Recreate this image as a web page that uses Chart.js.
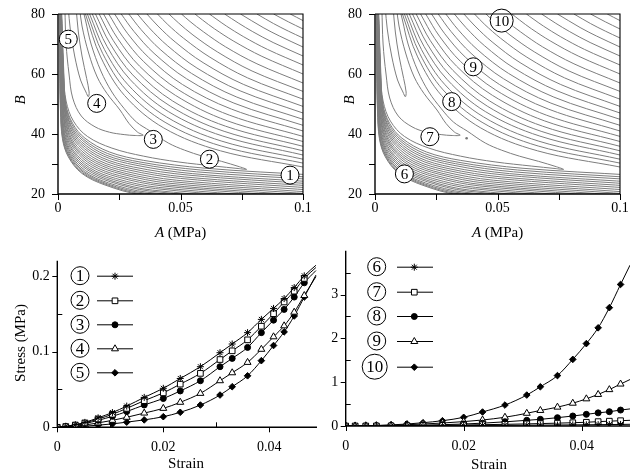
<!DOCTYPE html>
<html>
<head>
<meta charset="utf-8">
<script src="https://cdn.jsdelivr.net/npm/chart.js@4"></script>
<style>
  html, body { margin: 0; padding: 0; background: #fff; }
  #wrap { position: relative; width: 635px; height: 476px; }
  canvas { position: absolute; left: 0; top: 0; }
</style>
</head>
<body>
<div id="wrap">
  <canvas id="cTL" width="635" height="476"></canvas>
  <canvas id="cTR" width="635" height="476"></canvas>
  <canvas id="cBL" width="635" height="476"></canvas>
  <canvas id="cBR" width="635" height="476"></canvas>
</div>
<script>
// ---------- tick values ----------
const aTicks = [0, 0.05, 0.1];
const aTickText = ['0', '0.05', '0.1'];
const aMinor = [0.025, 0.075];
const bTicks = [20, 40, 60, 80];
const bTickText = ['20', '40', '60', '80'];
const bMinor = [30, 50, 70];
const strainTicks = [0, 0.02, 0.04];
const strainTickText = ['0', '0.02', '0.04'];
const strainMinor = [0.01, 0.03];
const stressTicksL = [0, 0.1, 0.2];
const stressTickTextL = ['0', '0.1', '0.2'];
const stressMinorL = [0.05, 0.15];
const stressTicksR = [0, 1, 2, 3];
const stressTickTextR = ['0', '1', '2', '3'];
const stressMinorR = [0.5, 1.5, 2.5, 3.5];

// ---------- contour lines (A, B pairs), same field in both top panels ----------
const upperLines = [
  [0.0112,80, 0.0174,65.7, 0.0272,52.8, 0.0432,42.0, 0.0663,34.4, 0.1,29.0],
  [0.0120,80, 0.0182,66.9, 0.0278,54.7, 0.0437,43.9, 0.0666,36.0, 0.1,30.3],
  [0.0129,80, 0.0190,68.1, 0.0286,56.4, 0.0443,45.7, 0.0669,37.6, 0.1,31.6],
  [0.0140,80, 0.0200,69.2, 0.0295,58.1, 0.0450,47.5, 0.0673,39.3, 0.1,33.0],
  [0.0153,80, 0.0212,70.2, 0.0305,59.7, 0.0458,49.3, 0.0678,40.9, 0.1,34.4],
  [0.0168,80, 0.0226,71.1, 0.0318,61.2, 0.0468,51.0, 0.0684,42.6, 0.1,35.9],
  [0.0186,80, 0.0243,71.9, 0.0333,62.6, 0.0479,52.9, 0.0691,44.4, 0.1,37.5],
  [0.0207,80, 0.0263,72.6, 0.0350,64.1, 0.0492,54.7, 0.0699,46.3, 0.1,39.2],
  [0.0231,80, 0.0285,73.4, 0.0369,65.6, 0.0508,56.5, 0.0708,48.3, 0.1,41.0],
  [0.0258,80, 0.0310,74.2, 0.0392,66.9, 0.0525,58.4, 0.0718,50.3, 0.1,42.9],
  [0.0289,80, 0.0339,74.8, 0.0417,68.2, 0.0545,60.2, 0.0730,52.3, 0.1,44.9],
  [0.0324,80, 0.0371,75.5, 0.0446,69.5, 0.0567,62.0, 0.0743,54.4, 0.1,47.0],
  [0.0363,80, 0.0408,76.0, 0.0478,70.7, 0.0592,63.8, 0.0758,56.5, 0.1,49.2],
  [0.0406,80, 0.0448,76.5, 0.0513,71.9, 0.0620,65.6, 0.0774,58.7, 0.1,51.6],
  [0.0453,80, 0.0491,77.1, 0.0551,73.0, 0.0650,67.4, 0.0792,61.0, 0.1,54.2],
  [0.0504,80, 0.0539,77.5, 0.0593,74.1, 0.0683,69.1, 0.0812,63.4, 0.1,57.0],
  [0.0559,80, 0.0590,78.0, 0.0638,75.1, 0.0718,70.9, 0.0832,65.9, 0.1,60.0],
  [0.0618,80, 0.0645,78.4, 0.0687,76.0, 0.0756,72.5, 0.0855,68.2, 0.1,63.0],
  [0.0680,80, 0.0738,76.9, 0.0795,74.1, 0.0878,70.5, 0.1,66.0],
  [0.0745,80, 0.0837,75.5, 0.0903,72.7, 0.1,69.0],
  [0.0812,80, 0.0880,76.8, 0.0940,74.3, 0.1,72.0],
  [0.0880,80, 0.0940,77.4, 0.1,75.0],
  [0.0948,80, 0.1,77.8]
];
const valleyLines = [
  [0.0042,82, 0.0050,75, 0.0068,66, 0.0092,58, 0.0114,54, 0.0124,52.4, 0.0127,54, 0.0117,58.5, 0.0098,66, 0.0083,74, 0.0074,82],
  [0.0028,82, 0.0033,70, 0.0045,60, 0.0060,52, 0.0095,46, 0.0151,42.4, 0.0210,40.6, 0.0270,39.8, 0.0315,39.5, 0.0348,39.6,
   0.0325,40.6, 0.0290,43.5, 0.0253,48, 0.0200,53.5, 0.0160,59, 0.0125,67, 0.0098,76, 0.0088,82],
  [0.0012,82, 0.0016,70, 0.0022,60, 0.0033,51, 0.0063,44.3, 0.0120,39.2, 0.0220,35.3, 0.0350,32.6, 0.0490,30.7, 0.0640,29.3,
   0.0735,28.5, 0.0770,28.2, 0.0740,29.1, 0.0667,30.9, 0.0590,32.6, 0.0517,34.6, 0.0450,37.0, 0.0376,41.0, 0.0320,44.0,
   0.0270,48.5, 0.0220,54.0, 0.0175,61.0, 0.0135,70.0, 0.0112,78.0, 0.0100,82]
];
const lowerLines = [
  [0.0005,82, 0.0007,60.0, 0.0010,48.0, 0.0018,38.5, 0.0042,32.4, 0.0097,26.9, 0.0192,23.0, 0.0340,19.8, 0.105,15.0],
  [0.0006,82, 0.0008,60.0, 0.0011,48.0, 0.0019,38.6, 0.0044,32.5, 0.0099,27.1, 0.0196,23.2, 0.0346,20.0, 0.105,15.2],
  [0.0006,82, 0.0009,60.1, 0.0012,48.1, 0.0020,38.8, 0.0046,32.7, 0.0103,27.3, 0.0201,23.4, 0.0354,20.3, 0.105,15.6],
  [0.0007,82, 0.0010,60.2, 0.0013,48.2, 0.0022,39.0, 0.0048,33.0, 0.0107,27.5, 0.0206,23.7, 0.0364,20.6, 0.105,16.0],
  [0.0008,82, 0.0011,60.3, 0.0015,48.3, 0.0024,39.2, 0.0051,33.2, 0.0112,27.8, 0.0213,24.1, 0.0374,21.0, 0.105,16.5],
  [0.0008,82, 0.0012,60.4, 0.0016,48.4, 0.0025,39.4, 0.0054,33.5, 0.0117,28.2, 0.0220,24.4, 0.0386,21.3, 0.105,17.0],
  [0.0009,82, 0.0013,60.4, 0.0017,48.4, 0.0027,39.6, 0.0057,33.8, 0.0122,28.5, 0.0227,24.8, 0.0398,21.8, 0.105,17.5],
  [0.0009,82, 0.0014,60.5, 0.0018,48.5, 0.0029,39.9, 0.0061,34.1, 0.0128,28.8, 0.0235,25.2, 0.0411,22.2, 0.105,18.1],
  [0.0010,82, 0.0015,60.7, 0.0020,48.7, 0.0032,40.1, 0.0064,34.4, 0.0134,29.2, 0.0243,25.7, 0.0425,22.7, 0.105,18.7],
  [0.0010,82, 0.0016,60.8, 0.0021,48.8, 0.0034,40.4, 0.0068,34.8, 0.0140,29.6, 0.0252,26.1, 0.0439,23.1, 0.105,19.3],
  [0.0011,82, 0.0017,60.9, 0.0022,48.9, 0.0036,40.7, 0.0072,35.1, 0.0146,30.0, 0.0261,26.6, 0.0453,23.6, 0.105,19.9],
  [0.0011,82, 0.0018,61.0, 0.0023,49.0, 0.0039,41.0, 0.0075,35.4, 0.0153,30.4, 0.0270,27.0, 0.0468,24.1, 0.105,20.5],
  [0.0012,82, 0.0019,61.1, 0.0025,49.1, 0.0041,41.3, 0.0079,35.8, 0.0159,30.8, 0.0279,27.5, 0.0483,24.6, 0.105,21.2],
  [0.0012,82, 0.0020,61.2, 0.0026,49.2, 0.0044,41.6, 0.0084,36.2, 0.0166,31.2, 0.0289,28.0, 0.0499,25.2, 0.105,21.9],
  [0.0012,82, 0.0020,61.3, 0.0027,49.3, 0.0046,41.9, 0.0088,36.6, 0.0173,31.7, 0.0298,28.5, 0.0515,25.7, 0.105,22.6],
  [0.0013,82, 0.0021,61.5, 0.0028,49.5, 0.0049,42.2, 0.0092,37.0, 0.0180,32.1, 0.0308,29.0, 0.0531,26.3, 0.105,23.3],
  [0.0013,82, 0.0021,61.6, 0.0029,49.6, 0.0052,42.5, 0.0096,37.4, 0.0187,32.6, 0.0318,29.6, 0.0548,26.8, 0.105,24.0],
  [0.0013,82, 0.0022,61.7, 0.0030,49.7, 0.0054,42.8, 0.0101,37.8, 0.0195,33.0, 0.0329,30.1, 0.0565,27.4, 0.105,24.8],
  [0.0014,82, 0.0022,61.9, 0.0031,49.9, 0.0057,43.2, 0.0105,38.2, 0.0202,33.5, 0.0339,30.6, 0.0582,28.0, 0.105,25.5],
  [0.0014,82, 0.0023,62.0, 0.0032,50.0, 0.0060,43.5, 0.0110,38.6, 0.0210,34.0, 0.0350,31.2, 0.0600,28.6, 0.105,26.3]
];
const bestFit = [0.0374, 38.6];

// circled fit labels on the contour maps
const fitTextL = ['1', '2', '3', '4', '5'];
const fitAL = [0.0947, 0.0618, 0.0389, 0.0158, 0.0042];
const fitBL = [26.3, 31.6, 38.2, 50.2, 71.6];
const fitTextR = ['6', '7', '8', '9', '10'];
const fitAR = [0.0120, 0.0224, 0.0313, 0.0401, 0.0517];
const fitBR = [26.7, 39.1, 50.8, 62.4, 77.8];

// ---------- stress-strain curves ----------
const strainL = [0, 0.0016, 0.0034, 0.0052, 0.0077, 0.0104, 0.0131, 0.0164, 0.0200, 0.0232, 0.0270, 0.0307, 0.0330, 0.0359, 0.0385, 0.0408, 0.0428, 0.0447, 0.0466, 0.0488];
const stress1 = [0, 0.0012, 0.0035, 0.0065, 0.0125, 0.0195, 0.0280, 0.0395, 0.0515, 0.0645, 0.0800, 0.0985, 0.1100, 0.1250, 0.1425, 0.1570, 0.1700, 0.1845, 0.2000, 0.2140];
const stress2 = [0, 0.0010, 0.0030, 0.0058, 0.0110, 0.0172, 0.0250, 0.0352, 0.0455, 0.0570, 0.0712, 0.0895, 0.1010, 0.1155, 0.1335, 0.1500, 0.1655, 0.1798, 0.1966, 0.2110];
const stress3 = [0, 0.0008, 0.0025, 0.0048, 0.0092, 0.0145, 0.0208, 0.0295, 0.0380, 0.0480, 0.0615, 0.0800, 0.0910, 0.1055, 0.1250, 0.1415, 0.1557, 0.1720, 0.1908, 0.2070];
const stress4 = [0, 0.0005, 0.0015, 0.0030, 0.0058, 0.0092, 0.0132, 0.0188, 0.0250, 0.0330, 0.0448, 0.0615, 0.0720, 0.0857, 0.1030, 0.1195, 0.1340, 0.1520, 0.1740, 0.1990];
const stress5 = [0, 0.0003, 0.0008, 0.0015, 0.0028, 0.0045, 0.0068, 0.0098, 0.0140, 0.0198, 0.0294, 0.0426, 0.0536, 0.0680, 0.0880, 0.1080, 0.1260, 0.1470, 0.1720, 0.2010];

const strainR = [0, 0.0016, 0.0034, 0.0052, 0.0077, 0.0104, 0.0131, 0.0164, 0.0200, 0.0232, 0.0270, 0.0307, 0.0330, 0.0359, 0.0385, 0.0408, 0.0428, 0.0447, 0.0466, 0.0482];
const stress6 = [0, 0, 0.0005, 0.001, 0.002, 0.003, 0.005, 0.007, 0.009, 0.012, 0.015, 0.018, 0.020, 0.023, 0.026, 0.028, 0.031, 0.033, 0.036, 0.039];
const stress7 = [0, 0.0005, 0.001, 0.002, 0.004, 0.007, 0.011, 0.016, 0.023, 0.030, 0.038, 0.048, 0.055, 0.065, 0.075, 0.085, 0.100, 0.110, 0.121, 0.130];
const stress8 = [0, 0.001, 0.002, 0.004, 0.007, 0.012, 0.020, 0.030, 0.045, 0.065, 0.095, 0.130, 0.152, 0.190, 0.228, 0.266, 0.300, 0.326, 0.364, 0.390];
const stress9 = [0, 0.002, 0.005, 0.009, 0.017, 0.029, 0.045, 0.068, 0.100, 0.137, 0.200, 0.290, 0.355, 0.430, 0.520, 0.620, 0.720, 0.830, 0.957, 1.060];
const stress10 = [0, 0.002, 0.006, 0.012, 0.025, 0.045, 0.075, 0.121, 0.198, 0.319, 0.478, 0.706, 0.895, 1.150, 1.520, 1.880, 2.240, 2.700, 3.230, 3.670];

// ---------- styling ----------
const serif = '"Liberation Serif", "Times New Roman", serif';
Chart.defaults.font.family = serif;
Chart.defaults.color = '#000';
const lineGray = '#7d7d7d';
const markerStyles = [
  { pointStyle: 'star', radius: 3.5, fill: '#000' },
  { pointStyle: 'rect', radius: 4, fill: '#fff' },
  { pointStyle: 'circle', radius: 3, fill: '#000' },
  { pointStyle: 'triangle', radius: 4, fill: '#fff' },
  { pointStyle: 'rectRot', radius: 3.3, fill: '#000' }
];

function toPoints(flat) {
  const pts = [];
  for (let i = 0; i < flat.length; i += 2) pts.push({ x: flat[i], y: flat[i + 1] });
  return pts;
}

function contourSets(lines) {
  return lines.map(flat => ({
    data: toPoints(flat),
    showLine: true,
    pointRadius: 0,
    borderColor: lineGray,
    borderWidth: 1,
    tension: 0.35
  }));
}

function stressSets(xs, list) {
  const last = xs.length - 1;
  return list.map((vals, k) => {
    const m = markerStyles[k];
    return {
      data: xs.map((x, i) => ({ x: x, y: vals[i] })),
      borderColor: '#000',
      borderWidth: 1,
      cubicInterpolationMode: 'monotone',
      pointStyle: m.pointStyle,
      pointRadius: xs.map((x, i) => (i === last ? 0 : m.radius)),
      pointBackgroundColor: m.fill,
      pointBorderColor: '#000',
      pointBorderWidth: 1,
      fill: false
    };
  });
}

function drawMarker(ctx, m, x, y) {
  ctx.fillStyle = m.fill;
  ctx.strokeStyle = '#000';
  ctx.lineWidth = 1;
  Chart.helpers.drawPoint(ctx, { pointStyle: m.pointStyle, radius: m.radius, borderWidth: 1, rotation: 0 }, x, y);
}

function circled(ctx, s, x, y, r, size) {
  ctx.beginPath();
  ctx.arc(x, y, r, 0, Math.PI * 2);
  ctx.fillStyle = '#fff';
  ctx.fill();
  ctx.lineWidth = 1;
  ctx.strokeStyle = '#000';
  ctx.stroke();
  ctx.fillStyle = '#000';
  ctx.font = size + 'px ' + serif;
  ctx.textAlign = 'center';
  ctx.textBaseline = 'middle';
  ctx.fillText(s, x, y + 1);
}

function drawTitle(ctx, parts, cx, cy, rot) {
  ctx.save();
  ctx.translate(cx, cy);
  if (rot) ctx.rotate(-Math.PI / 2);
  let w = 0;
  parts.forEach(p => { ctx.font = p[1] + ' 15px ' + serif; w += ctx.measureText(p[0]).width; });
  let x = -w / 2;
  ctx.fillStyle = '#000';
  ctx.textAlign = 'left';
  ctx.textBaseline = 'middle';
  parts.forEach(p => {
    ctx.font = p[1] + ' 15px ' + serif;
    ctx.fillText(p[0], x, 0);
    x += ctx.measureText(p[0]).width;
  });
  ctx.restore();
}

// axes, ticks, tick labels, titles, labels
function deco(spec) {
  return {
    id: 'deco',
    afterDraw(chart) {
      const ctx = chart.ctx, a = chart.chartArea, sx = chart.scales.x, sy = chart.scales.y;
      ctx.save();
      // circled labels on contour maps
      if (spec.fit) {
        spec.fit.text.forEach((t, i) => {
          const px = sx.getPixelForValue(spec.fit.a[i]), py = sy.getPixelForValue(spec.fit.b[i]);
          circled(ctx, t, px, py, t.length > 1 ? 11.5 : 9, 15);
        });
      }
      // legend
      if (spec.legend) {
        const L = spec.legend;
        L.rows.forEach((y, i) => {
          const t = L.text[i];
          circled(ctx, t, L.cx - (t.length > 1 ? 2 : 0), y, t.length > 1 ? 12.5 : 9, 17);
          ctx.strokeStyle = '#000';
          ctx.lineWidth = 1;
          ctx.beginPath();
          ctx.moveTo(L.x1, y + 0.5);
          ctx.lineTo(L.x2, y + 0.5);
          ctx.stroke();
          drawMarker(ctx, markerStyles[i], L.mx, y + 0.5);
        });
      }
      // frame / axes
      ctx.strokeStyle = '#000';
      ctx.lineWidth = 1.4;
      ctx.beginPath();
      ctx.moveTo(a.left, a.top);
      ctx.lineTo(a.left, a.bottom);
      ctx.lineTo(a.right, a.bottom);
      ctx.stroke();
      if (spec.box) {
        ctx.lineWidth = 1.1;
        ctx.beginPath();
        ctx.moveTo(a.left, a.top);
        ctx.lineTo(a.right, a.top);
        ctx.lineTo(a.right, a.bottom);
        ctx.stroke();
      }
      // ticks (positive length = outward)
      ctx.lineWidth = 1;
      const mark = (list, len, isX) => list.forEach(v => {
        ctx.beginPath();
        if (isX) {
          const p = Math.round(sx.getPixelForValue(v)) + 0.5;
          ctx.moveTo(p, a.bottom);
          ctx.lineTo(p, a.bottom + len);
        } else {
          const p = Math.round(sy.getPixelForValue(v)) + 0.5;
          ctx.moveTo(a.left, p);
          ctx.lineTo(a.left - len, p);
        }
        ctx.stroke();
      });
      mark(spec.xMajor, spec.majorLen, true);
      mark(spec.xMinor, spec.minorLen, true);
      mark(spec.yMajor, spec.majorLen, false);
      mark(spec.yMinor, spec.minorLen, false);
      // tick labels
      ctx.fillStyle = '#000';
      ctx.font = '14px ' + serif;
      ctx.textBaseline = 'middle';
      ctx.textAlign = 'center';
      spec.xMajor.forEach((v, i) => ctx.fillText(spec.xText[i], sx.getPixelForValue(v), a.bottom + spec.xLabelGap));
      ctx.textAlign = 'right';
      spec.yMajor.forEach((v, i) => ctx.fillText(spec.yText[i], a.left - spec.yLabelGap, sy.getPixelForValue(v)));
      // axis titles
      spec.titles.forEach(t => drawTitle(ctx, t.parts, t.x, t.y, t.rot));
      ctx.restore();
    }
  };
}

function axis(min, max, ticks, isX) {
  return {
    type: 'linear',
    min: min,
    max: max,
    afterBuildTicks: s => { s.ticks = ticks.map(v => ({ value: v })); },
    afterFit: s => { if (isX) s.height = 30; else s.width = 40; },
    ticks: { display: false },
    grid: { display: false, drawTicks: false },
    border: { display: false }
  };
}

function placed(area) {
  return {
    left: area.l - 40,
    top: area.t,
    right: 635 - area.r,
    bottom: 476 - area.b - 30
  };
}

const baseOptions = {
  responsive: false,
  animation: false,
  events: [],
  devicePixelRatio: 1
};

function contourChart(id, area, fit, yTitleX, withMin) {
  const sets = contourSets(lowerLines).concat(contourSets(valleyLines), contourSets(upperLines));
  if (withMin) {
    sets.push({ data: [{ x: bestFit[0], y: bestFit[1] }], pointRadius: 1.3, pointBackgroundColor: '#777', pointBorderWidth: 0 });
  }
  const cx = (area.l + area.r) / 2;
  new Chart(document.getElementById(id), {
    type: 'scatter',
    data: { datasets: sets },
    options: Object.assign({}, baseOptions, {
      layout: { padding: placed(area) },
      plugins: { legend: { display: false }, tooltip: { enabled: false } },
      scales: {
        x: axis(0, 0.1, aTicks, true),
        y: axis(20, 80, bTicks, false)
      }
    }),
    plugins: [deco({
      box: true, fit: fit,
      xMajor: aTicks, xMinor: aMinor, yMajor: bTicks, yMinor: bMinor,
      xText: aTickText, yText: bTickText, xLabelGap: 14, yLabelGap: 13,
      majorLen: 6, minorLen: 6,
      titles: [
        { parts: [['A', 'italic'], [' (MPa)', 'normal']], x: cx, y: 233 },
        { parts: [['B', 'italic']], x: yTitleX, y: 100, rot: true }
      ]
    })]
  });
}

function stressChart(id, area, xs, list, yMax, yTicks, yText, yMinor, legend, titles) {
  new Chart(document.getElementById(id), {
    type: 'line',
    data: { datasets: stressSets(xs, list) },
    options: Object.assign({}, baseOptions, {
      layout: { padding: placed(area) },
      plugins: { legend: { display: false }, tooltip: { enabled: false } },
      scales: {
        x: axis(0, area.xMax, strainTicks, true),
        y: axis(0, yMax, yTicks, false)
      }
    }),
    plugins: [deco({
      box: false, legend: legend,
      xMajor: strainTicks, xMinor: strainMinor, yMajor: yTicks, yMinor: yMinor,
      xText: strainTickText, yText: yText, xLabelGap: 20.5, yLabelGap: 7.5,
      majorLen: 5, minorLen: -5,
      titles: titles
    })]
  });
}

contourChart('cTL', { l: 58, t: 14, r: 303, b: 194 },
  { text: fitTextL, a: fitAL, b: fitBL }, 21, false);
contourChart('cTR', { l: 375, t: 14, r: 620, b: 194 },
  { text: fitTextR, a: fitAR, b: fitBR }, 350, true);

stressChart('cBL', { l: 57.3, t: 260.7, r: 317, b: 427.3, xMax: 0.049 }, strainL,
  [stress1, stress2, stress3, stress4, stress5], 0.22,
  stressTicksL, stressTickTextL, stressMinorL,
  { rows: [275.7, 300.3, 324.3, 348.3, 372.3], text: ['1', '2', '3', '4', '5'], cx: 80, x1: 97, x2: 133, mx: 115 },
  [{ parts: [['Strain', 'normal']], x: 186, y: 464 },
   { parts: [['Stress (MPa)', 'normal']], x: 21, y: 343, rot: true }]);

stressChart('cBR', { l: 345.7, t: 250.7, r: 633, b: 426, xMax: 0.0482 }, strainR,
  [stress6, stress7, stress8, stress9, stress10], 4,
  stressTicksR, stressTickTextR, stressMinorR,
  { rows: [266.7, 291.7, 316, 341, 366.7], text: ['6', '7', '8', '9', '10'], cx: 376.7, x1: 397, x2: 433, mx: 414.3 },
  [{ parts: [['Strain', 'normal']], x: 489, y: 465 }]);
</script>
</body>
</html>
